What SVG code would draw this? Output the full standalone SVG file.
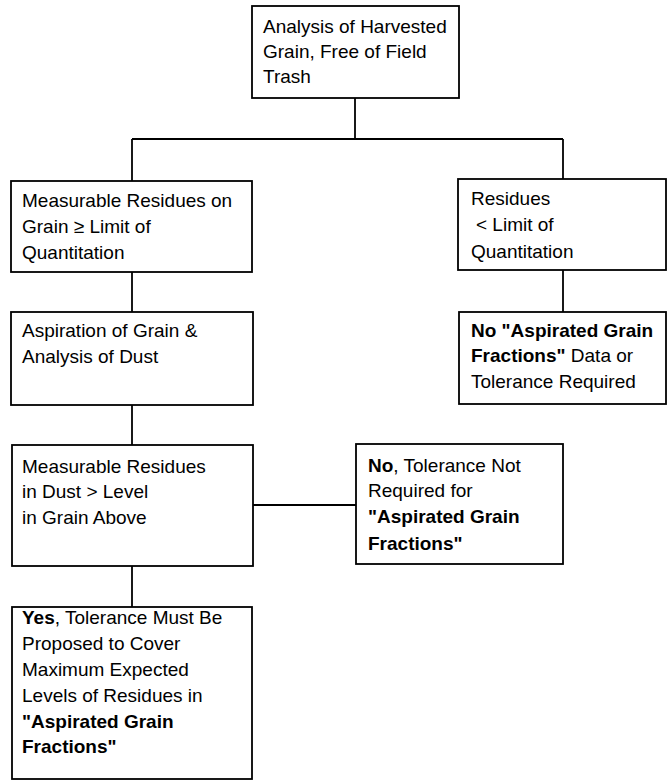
<svg xmlns="http://www.w3.org/2000/svg" width="669" height="782" viewBox="0 0 669 782">
<style>
.box{fill:#fff;stroke:#000;stroke-width:1.8}
.t{font-family:"Liberation Sans",Arial,Helvetica,sans-serif;font-size:19px;fill:#000}
.b{font-weight:bold}
.c{stroke:#000;stroke-width:1.8;fill:none}
</style>
<rect width="669" height="782" fill="#fff"/>
<g id="connectors">
<line class="c" x1="355" y1="98" x2="355" y2="139"/>
<line class="c" x1="132" y1="139" x2="563" y2="139"/>
<line class="c" x1="132" y1="139" x2="132" y2="181"/>
<line class="c" x1="563" y1="139" x2="563" y2="179"/>
<line class="c" x1="132" y1="272" x2="132" y2="312"/>
<line class="c" x1="563" y1="270" x2="563" y2="312"/>
<line class="c" x1="132" y1="405" x2="132" y2="445"/>
<line class="c" x1="253" y1="505" x2="356" y2="505"/>
<line class="c" x1="132" y1="566" x2="132" y2="607"/>
</g>
<g id="n1">
<rect class="box" x="252" y="6" width="207" height="92"/>
<text class="t" x="263" y="33">Analysis of Harvested</text>
<text class="t" x="263" y="58">Grain, Free of Field</text>
<text class="t" x="263" y="83">Trash</text>
</g>
<g id="n2">
<rect class="box" x="11" y="181" width="241" height="91"/>
<text class="t" x="22" y="207">Measurable Residues on</text>
<text class="t" x="22" y="233">Grain ≥ Limit of</text>
<text class="t" x="22" y="259">Quantitation</text>
</g>
<g id="n3">
<rect class="box" x="458" y="179" width="208" height="91"/>
<text class="t" x="471" y="205">Residues</text>
<text class="t" x="476" y="231">&lt; Limit of</text>
<text class="t" x="471" y="258">Quantitation</text>
</g>
<g id="n4">
<rect class="box" x="459" y="312" width="207" height="92"/>
<text class="t" x="471" y="337"><tspan class="b">No "Aspirated Grain</tspan></text>
<text class="t" x="471" y="362"><tspan class="b">Fractions"</tspan> Data or</text>
<text class="t" x="471" y="388">Tolerance Required</text>
</g>
<g id="n5">
<rect class="box" x="11" y="312" width="242" height="93"/>
<text class="t" x="22" y="337">Aspiration of Grain &amp;</text>
<text class="t" x="22" y="363">Analysis of Dust</text>
</g>
<g id="n6">
<rect class="box" x="12" y="445" width="241" height="121"/>
<text class="t" x="22" y="473">Measurable Residues</text>
<text class="t" x="22" y="498">in Dust &gt; Level</text>
<text class="t" x="22" y="524">in Grain Above</text>
</g>
<g id="n7">
<rect class="box" x="356" y="444" width="207" height="120"/>
<text class="t" x="368" y="472"><tspan class="b">No</tspan>, Tolerance Not</text>
<text class="t" x="368" y="497">Required for</text>
<text class="t b" x="368" y="523">"Aspirated Grain</text>
<text class="t b" x="368" y="550">Fractions"</text>
</g>
<g id="n8">
<rect class="box" x="12" y="607" width="240" height="172"/>
<text class="t" x="22" y="624"><tspan class="b">Yes</tspan>, Tolerance Must Be</text>
<text class="t" x="22" y="650">Proposed to Cover</text>
<text class="t" x="22" y="676">Maximum Expected</text>
<text class="t" x="22" y="702">Levels of Residues in</text>
<text class="t b" x="22" y="728">"Aspirated Grain</text>
<text class="t b" x="22" y="753">Fractions"</text>
</g>
</svg>
